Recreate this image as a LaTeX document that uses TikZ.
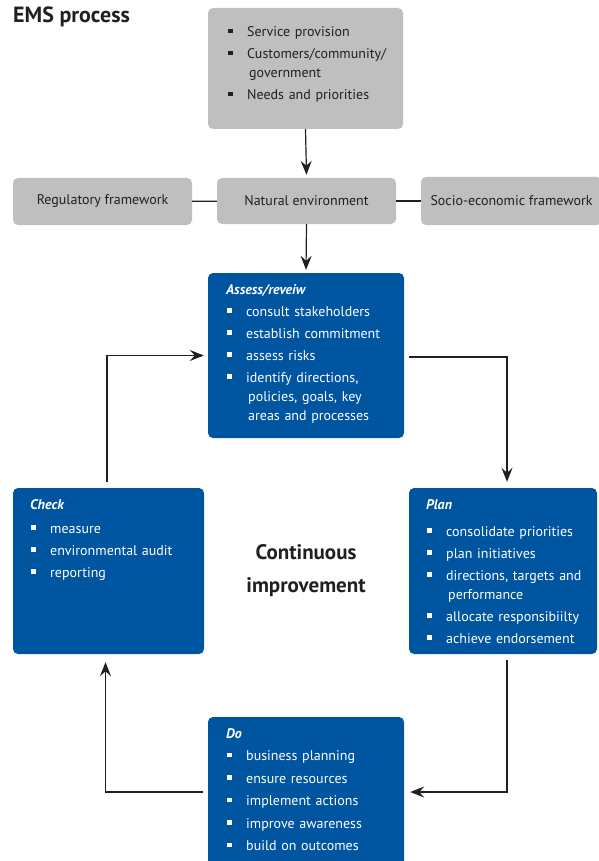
\documentclass[tikz,border=0pt]{standalone}
\usepackage{fontspec}
\setmainfont{PT Sans}
\usetikzlibrary{arrows.meta}
\definecolor{emsblue}{RGB}{0,85,160}
\definecolor{emsgray}{RGB}{191,191,191}
\definecolor{emsink}{RGB}{35,31,32}
\newcommand\bsq{\rule[3.5pt]{4.5pt}{4.5pt}}
\newcommand\bfirst[1]{\hangindent=22pt\hangafter=1\noindent\makebox[20pt][l]{\hspace{1pt}\bsq}#1}
\newcommand\bitem[1]{\par\bfirst{#1}}
\newcommand\bhead[1]{\noindent{\bfseries\itshape #1}}
\tikzset{
  graybox/.style={fill=emsgray, rounded corners=5pt, inner sep=0pt, text=emsink},
  bluebox/.style={fill=emsblue, rounded corners=5pt, inner sep=0pt},
  boxtext/.style={anchor=base west, inner sep=0pt, text width=185pt, align=left},
  arr/.style={-{Stealth[length=14pt,width=11pt,inset=5pt]}, line width=1.2pt, draw=emsink},
  link/.style={line width=1.2pt, draw=emsink}
}
\begin{document}
\begin{tikzpicture}[x=1pt,y=-1pt,font=\fontsize{14}{19}\selectfont]
\useasboundingbox (0,0) rectangle (598,861);
% title
\node[anchor=base west, inner sep=0pt, text=emsink, font=\bfseries\fontsize{22}{26}\selectfont] (title) at (13,23) {EMS process};
% gray boxes
\node[graybox, minimum width=195pt, minimum height=121pt] (top) at (305.5,68.5) {};
\node[boxtext, text=emsink] (toptext) at (227,37) {\setlength{\parskip}{3pt}%
\bfirst{Service provision}
\bitem{Customers/community/\hfil\break government}
\bitem{Needs and priorities}\par};
\node[graybox, minimum width=179pt, minimum height=47pt] (reg) at (102.5,201.5) {Regulatory framework};
\node[graybox, minimum width=179pt, minimum height=46pt] (nat) at (306.5,201) {Natural environment};
\node[graybox, minimum width=181pt, minimum height=48pt] (soc) at (511.5,201) {Socio-economic framework};
% blue boxes
\node[bluebox, minimum width=196pt, minimum height=165pt] (assess) at (306,355.5) {};
\node[boxtext, text=white] (assesstext) at (226,294) {\setlength{\parskip}{3pt}%
\bhead{Assess/reveiw}
\bitem{consult stakeholders}
\bitem{establish commitment}
\bitem{assess risks}
\bitem{identify directions,\hfil\break policies, goals, key\hfil\break areas and processes}\par};
\node[bluebox, minimum width=188pt, minimum height=166pt] (plan) at (503,571) {};
\node[boxtext, text=white] (plantext) at (426,509) {\setlength{\parskip}{3pt}%
\bhead{Plan}\par\vspace{5pt}
\bitem{consolidate priorities}
\bitem{plan initiatives}
\bitem{directions, targets and\hfil\break performance}
\bitem{allocate responsibiilty}
\bitem{achieve endorsement}\par};
\node[bluebox, minimum width=191pt, minimum height=166pt] (check) at (108.5,571) {};
\node[boxtext, text=white] (checktext) at (30,509) {\setlength{\parskip}{3pt}%
\bhead{Check}\par\vspace{2pt}
\bitem{measure}
\bitem{environmental audit}
\bitem{reporting}\par};
\node[bluebox, minimum width=196pt, minimum height=150pt] (do) at (306,792) {};
\node[boxtext, text=white] (dotext) at (226,738) {\setlength{\parskip}{3.5pt}%
\bhead{Do}
\bitem{business planning}
\bitem{ensure resources}
\bitem{implement actions}
\bitem{improve awareness}
\bitem{build on outcomes}\par};
% centre label
\node[align=center, text=emsink, font=\bfseries\fontsize{21}{33}\selectfont] (ci) at (306,571) {Continuous\\improvement};
% connectors
\draw[link] (reg) -- (nat);
\draw[link] (nat) -- (soc);
\draw[arr] (top.south) -- ([yshift=3pt]nat.north);
\draw[arr] (nat.south) -- ([yshift=3pt]assess.north);
\draw[arr] ([xshift=5pt,yshift=-1.5pt]assess.east) -| ([xshift=4pt,yshift=6pt]plan.north);
\draw[arr] ([xshift=4pt,yshift=-6pt]plan.south) |- ([xshift=6pt]do.east);
\draw[arr] ([xshift=-5pt]do.west) -| ([xshift=-3pt,yshift=-8pt]check.south);
\draw[arr] ([xshift=-1.5pt,yshift=6pt]check.north) |- ([xshift=-4pt]assess.west);
\end{tikzpicture}
\end{document}
